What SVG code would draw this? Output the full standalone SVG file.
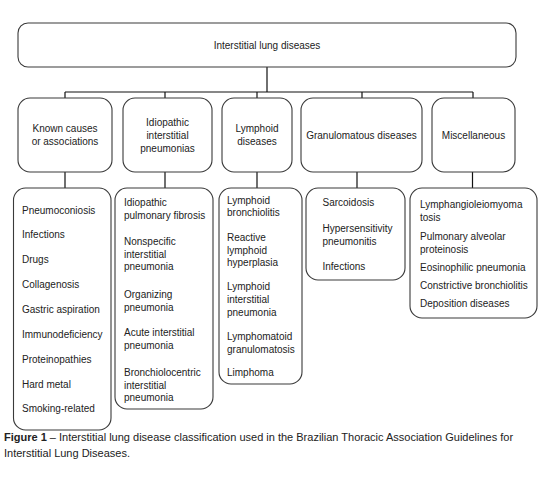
<svg xmlns="http://www.w3.org/2000/svg" width="560" height="484" viewBox="0 0 560 484">
<style>
.box{fill:#fff;stroke:#3a3a3a;stroke-width:1.1}
.ln{stroke:#111;stroke-width:1.2;fill:none}
text{font-family:"Liberation Sans",Arial,sans-serif;font-size:10px;fill:#222}
.c{text-anchor:middle}
.b{font-weight:bold}
.cap{font-size:11px}
</style>
<rect width="560" height="484" fill="#fff"/>
<g id="connectors">
<path class="ln" d="M267 67V92M65 92H473M65 92V98M165 92V98M257 92V98M362 92V98M473 92V98"/>
<path class="ln" d="M65 172V188M165 172V188M257 172V188M357 172V188M472.5 172V188"/>
</g>
<g id="root">
<rect class="box" x="18" y="23" width="498" height="44" rx="10"/>
<text class="c" x="267" y="48.5">Interstitial lung diseases</text>
</g>
<g id="cat-known">
<rect class="box" x="18" y="98" width="94" height="74" rx="12"/>
<text class="c" x="65" y="131.5">Known causes</text>
<text class="c" x="65" y="144.5">or associations</text>
</g>
<g id="cat-idiopathic">
<rect class="box" x="123" y="98" width="89" height="74" rx="12"/>
<text class="c" x="167.5" y="125.5">Idiopathic</text>
<text class="c" x="167.5" y="138.5">interstitial</text>
<text class="c" x="167.5" y="151.5">pneumonias</text>
</g>
<g id="cat-lymphoid">
<rect class="box" x="222" y="98" width="70" height="74" rx="12"/>
<text class="c" x="257" y="131.5">Lymphoid</text>
<text class="c" x="257" y="144.5">diseases</text>
</g>
<g id="cat-granulomatous">
<rect class="box" x="301" y="98" width="121" height="74" rx="12"/>
<text class="c" x="361.5" y="138.5">Granulomatous diseases</text>
</g>
<g id="cat-misc">
<rect class="box" x="432" y="98" width="83" height="74" rx="12"/>
<text class="c" x="473.5" y="138.5">Miscellaneous</text>
</g>
<g id="list-known">
<rect class="box" x="13.5" y="188" width="97.5" height="242" rx="12"/>
<text x="22" y="213.5">Pneumoconiosis</text>
<text x="22" y="238.4">Infections</text>
<text x="22" y="263.2">Drugs</text>
<text x="22" y="288.1">Collagenosis</text>
<text x="22" y="312.9">Gastric aspiration</text>
<text x="22" y="337.8">Immunodeficiency</text>
<text x="22" y="362.6">Proteinopathies</text>
<text x="22" y="387.5">Hard metal</text>
<text x="22" y="412.3">Smoking-related</text>
</g>
<g id="list-idiopathic">
<rect class="box" x="115" y="188" width="98" height="221" rx="12"/>
<text x="124" y="205.5">Idiopathic</text>
<text x="124" y="219">pulmonary fibrosis</text>
<text x="124" y="244.5">Nonspecific</text>
<text x="124" y="257.5">interstitial</text>
<text x="124" y="270">pneumonia</text>
<text x="124" y="297.5">Organizing</text>
<text x="124" y="310.5">pneumonia</text>
<text x="124" y="336">Acute interstitial</text>
<text x="124" y="349">pneumonia</text>
<text x="124" y="376">Bronchiolocentric</text>
<text x="124" y="388.5">interstitial</text>
<text x="124" y="401">pneumonia</text>
</g>
<g id="list-lymphoid">
<rect class="box" x="219" y="188" width="83" height="196" rx="12"/>
<text x="227" y="203.5">Lymphoid</text>
<text x="227" y="216.2">bronchiolitis</text>
<text x="227" y="240.5">Reactive</text>
<text x="227" y="253.5">lymphoid</text>
<text x="227" y="266.2">hyperplasia</text>
<text x="227" y="290.2">Lymphoid</text>
<text x="227" y="302.8">interstitial</text>
<text x="227" y="315.8">pneumonia</text>
<text x="227" y="340.2">Lymphomatoid</text>
<text x="227" y="352.8">granulomatosis</text>
<text x="227" y="376.2">Limphoma</text>
</g>
<g id="list-granulomatous">
<rect class="box" x="306" y="188" width="99" height="92" rx="12"/>
<text x="322.5" y="206.2">Sarcoidosis</text>
<text x="322.5" y="231.8">Hypersensitivity</text>
<text x="322.5" y="244.5">pneumonitis</text>
<text x="322.5" y="270.2">Infections</text>
</g>
<g id="list-misc">
<rect class="box" x="410" y="188" width="127" height="130" rx="12"/>
<text x="420" y="207.5">Lymphangioleiomyoma</text>
<text x="420" y="221.2">tosis</text>
<text x="420" y="239.5">Pulmonary alveolar</text>
<text x="420" y="252.8">proteinosis</text>
<text x="420" y="270.8">Eosinophilic pneumonia</text>
<text x="420" y="288.5">Constrictive bronchiolitis</text>
<text x="420" y="306.8">Deposition diseases</text>
</g>
<g id="caption">
<text class="cap" x="4" y="441"><tspan class="b">Figure 1</tspan> – Interstitial lung disease classification used in the Brazilian Thoracic Association Guidelines for</text>
<text class="cap" x="4" y="456.5">Interstitial Lung Diseases.</text>
</g>
</svg>
